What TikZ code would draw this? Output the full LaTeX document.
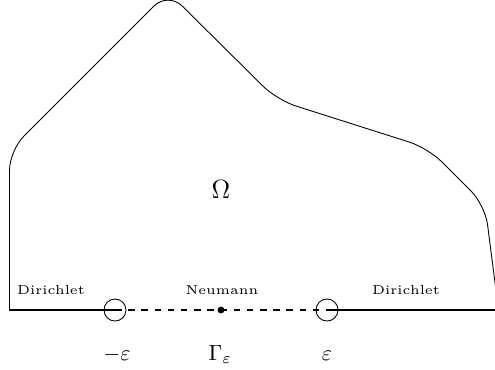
\documentclass[tikz,border=0pt]{standalone}
\usepackage{amsmath}
\usepackage{amssymb}
\usetikzlibrary{positioning,calc}

\begin{document}
\begin{tikzpicture}[
    boundary/.style={line width=0.4pt, rounded corners=9pt},
    bcline/.style={line width=1pt},
    bclabel/.style={font=\tiny, anchor=base, scale=1.18},
    pointlabel/.style={anchor=base},
    endcirc/.style={circle, draw, line width=0.4pt, minimum size=0.352cm, inner sep=0pt},
    middot/.style={circle, fill, minimum size=0.11cm, inner sep=0pt}
]
\useasboundingbox (-0.152,-0.944) rectangle (7.768,4.96);
\clip (-0.152,-0.944) rectangle (7.768,4.96);

% Domain boundary
\draw[boundary] (0,0) -- (0,2.55) -- (2.536,5.088) -- (4.28,3.36) -- (6.696,2.592) -- (7.608,1.68) -- (7.85,-0.2);

% Points on the bottom edge
\coordinate (left) at (0,0);
\coordinate (right) at (7.9,0);
\node[endcirc] (meps) at (1.688,0) {};
\node[middot] (mid) at (3.384,0) {};
\node[endcirc] (peps) at (5.08,0) {};

% Bottom edge: Dirichlet / Neumann / Dirichlet
\draw[bcline] (left) -- (meps.center);
\draw[bcline, dashed] (meps.center) -- (peps.center);
\draw[bcline] (peps.center) -- (right);

% Labels
\node[font=\large, anchor=base] (omega) at (3.384,1.79) {$\Omega$};
\node[bclabel] (dirl) at (0.664,0.256) {Dirichlet};
\node[bclabel] (neu) at (3.40,0.256) {Neumann};
\node[bclabel] (dirr) at (6.344,0.256) {Dirichlet};
\node[pointlabel] (lmeps) at (1.72,-0.8) {$-\varepsilon$};
\node[pointlabel] (lgam) at (3.37,-0.8) {$\Gamma_\varepsilon$};
\node[pointlabel] (lpeps) at (5.08,-0.8) {$\varepsilon$};

\end{tikzpicture}
\end{document}
